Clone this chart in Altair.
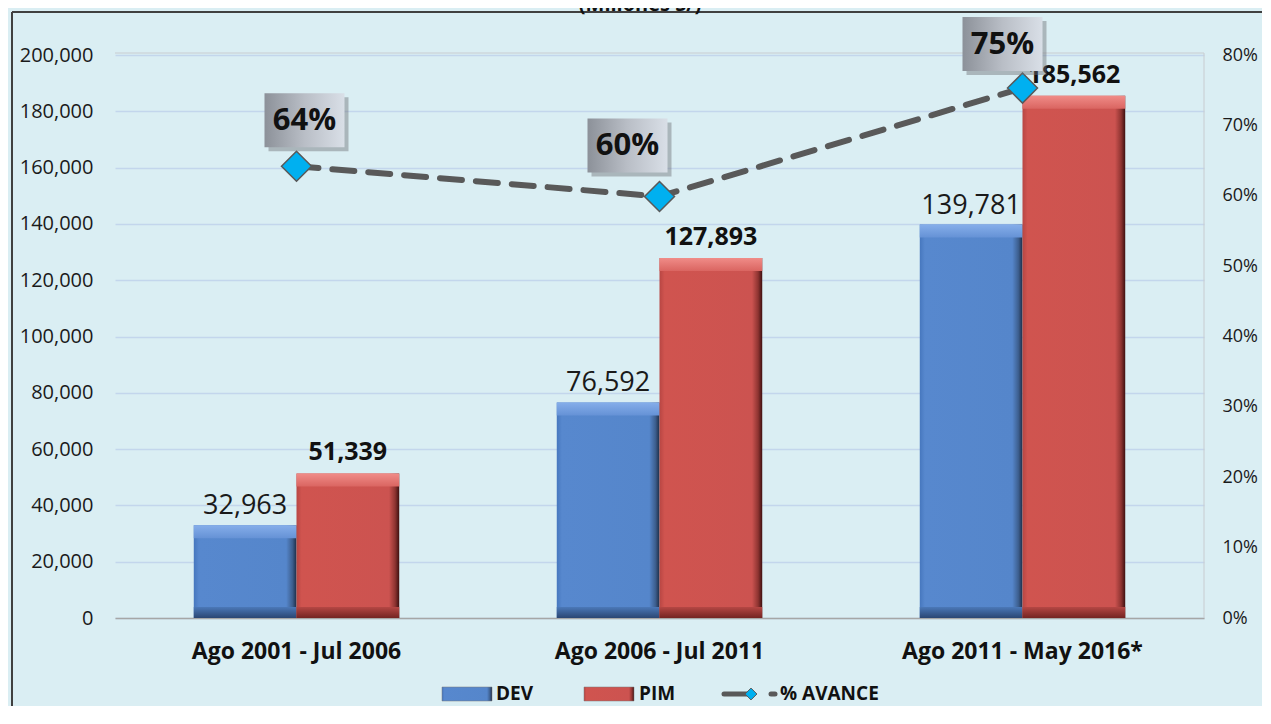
import altair as alt
import pandas as pd

# ---------------- data ----------------
periods = ["Ago 2001 - Jul 2006", "Ago 2006 - Jul 2011", "Ago 2011 - May 2016*"]
series = ["DEV", "PIM"]
dev_values = [32963, 76592, 139781]
pim_values = [51339, 127893, 185562]
avance_values = [0.642, 0.599, 0.753]
left_ticks = [0, 20000, 40000, 60000, 80000, 100000, 120000, 140000, 160000, 180000, 200000]
right_ticks = [0, 0.1, 0.2, 0.3, 0.4, 0.5, 0.6, 0.7, 0.8]
title_text = "(Millones S/)"
line_name = "% AVANCE"

bars_df = pd.DataFrame({
    "period": periods * 2,
    "series": ["DEV"] * 3 + ["PIM"] * 3,
    "value": dev_values + pim_values,
})
bars_df["zero"] = 0
line_df = pd.DataFrame({"period": periods, "pct": avance_values})
one = pd.DataFrame({"a": [0]})

# ---------------- style ----------------
BG = "#DAEEF3"
FONT = "Open Sans"
W, H = 1089, 563
PAD = {"left": 107, "top": 47, "right": 58, "bottom": 88}

def grad(stops, vertical=False):
    return alt.LinearGradient(
        gradient="linear",
        stops=[alt.GradientStop(offset=o, color=c) for o, c in stops],
        x1=0, x2=0 if vertical else 1, y1=0, y2=1 if vertical else 0,
    )

styles = {
    "DEV": dict(
        main=grad([(0, "#4677BE"), (0.05, "#5788CE"), (0.9, "#5586CB"), (0.96, "#3D5F8F"), (1, "#1E2E48")]),
        top=grad([(0, "#86AEEA"), (1, "#6592D6")], vertical=True),
        bottom=grad([(0, "#4B78B8"), (1, "#2B4773")], vertical=True),
    ),
    "PIM": dict(
        main=grad([(0, "#B84643"), (0.05, "#D0544F"), (0.9, "#CC5350"), (0.96, "#8E3431"), (1, "#3E1010")]),
        top=grad([(0, "#F08C88"), (1, "#DA6561")], vertical=True),
        bottom=grad([(0, "#B54744"), (1, "#742422")], vertical=True),
    ),
}

X = alt.X(
    "period:N", sort=periods, title=None,
    scale=alt.Scale(paddingInner=0.434, paddingOuter=0.217),
    axis=alt.Axis(labelFont=FONT, labelFontSize=23, labelFontWeight="bold", labelColor="#111111",
                  ticks=False, domainColor="#A6A6A6", domainWidth=1.5, labelPadding=22, labelAngle=0,
                  labelLimit=0),
)
XOFF = alt.XOffset("series:N", sort=series, scale=alt.Scale(paddingInner=0, paddingOuter=0))
Y_LEFT = alt.Y(
    "value:Q", title=None,
    scale=alt.Scale(domain=[0, 200000], nice=False, zero=True),
    axis=alt.Axis(values=left_ticks, format=",d", labelFont=FONT, labelFontSize=20, labelColor="#1a1a1a",
                  ticks=False, domain=False, labelPadding=22, gridColor="#C3D6EC", gridWidth=1.5),
)
Y_ZERO = alt.Y("zero:Q", title=None, scale=alt.Scale(domain=[0, 200000], nice=False))
Y_RIGHT = alt.Y(
    "pct:Q", title=None,
    scale=alt.Scale(domain=[0, 0.8], nice=False),
    axis=alt.Axis(orient="right", values=right_ticks, format=".0%", labelFont=FONT, labelFontSize=18,
                  labelColor="#1a1a1a", ticks=False, domain=False, grid=False, labelPadding=18),
)

# ---------------- bars ----------------
left_layers = []
for s in series:
    base = alt.Chart(bars_df).transform_filter(alt.datum.series == s)
    left_layers.append(base.mark_bar(color=styles[s]["main"]).encode(x=X, xOffset=XOFF, y=Y_LEFT))
    left_layers.append(base.mark_bar(color=styles[s]["top"], y2Offset=13).encode(
        x=X, xOffset=XOFF, y=Y_LEFT, y2="value:Q"))
    left_layers.append(base.mark_bar(color=styles[s]["bottom"], yOffset=-11).encode(
        x=X, xOffset=XOFF, y=Y_ZERO, y2="zero:Q"))

left_layers.append(
    alt.Chart(bars_df).transform_filter(alt.datum.series == "DEV")
    .mark_text(font=FONT, fontSize=27, color="#1a1a1a", baseline="middle", dy=-19)
    .encode(x=X, xOffset=XOFF, y=Y_LEFT, text=alt.Text("value:Q", format=",d"))
)
left_layers.append(
    alt.Chart(bars_df).transform_filter(alt.datum.series == "PIM")
    .mark_text(font=FONT, fontSize=25, fontWeight="bold", color="#111111", baseline="middle", dy=-21)
    .encode(x=X, xOffset=XOFF, y=Y_LEFT, text=alt.Text("value:Q", format=",d"))
)
left = alt.layer(*left_layers)

# ---------------- line ----------------
right_layers = [
    alt.Chart(line_df).mark_line(color="#595959", strokeWidth=6, strokeDash=[22, 14], strokeCap="round")
    .encode(x=X, y=Y_RIGHT),
    alt.Chart(line_df).mark_point(shape="diamond", size=900, filled=True, fill="#00B0F0",
                                  stroke="#595959", strokeWidth=1.5, opacity=1)
    .encode(x=X, y=Y_RIGHT),
]
box_shape = "M-1,-0.675L1,-0.675L1,0.675L-1,0.675Z"
box_grad = grad([(0, "#8C9199"), (0.5, "#B9BEC6"), (1, "#D9DFE7")])
label_offsets = [(8, -46), (-32, -51), (-20, -44)]
for p, (dx, dy) in zip(periods, label_offsets):
    base = alt.Chart(line_df).transform_filter(alt.datum.period == p)
    right_layers.append(base.mark_point(shape=box_shape, size=6400, filled=True, fill="#6E7278",
                                        opacity=0.45, xOffset=dx + 4, yOffset=dy + 4)
                        .encode(x=X, y=Y_RIGHT))
    right_layers.append(base.mark_point(shape=box_shape, size=6400, filled=True, fill=box_grad,
                                        opacity=1, xOffset=dx, yOffset=dy)
                        .encode(x=X, y=Y_RIGHT))
    right_layers.append(base.mark_text(font=FONT, fontSize=31, fontWeight="bold", color="#111111",
                                       baseline="middle", xOffset=dx, yOffset=dy + 1)
                        .encode(x=X, y=Y_RIGHT, text=alt.Text("pct:Q", format=".0%")))
right = alt.layer(*right_layers)

# ---------------- decorations ----------------
frame_top = alt.Chart(one).mark_rule(color="#404040", strokeWidth=2).encode(
    x=alt.value(-103), x2=alt.value(W + PAD["right"]), y=alt.value(-43))
frame_left = alt.Chart(one).mark_rule(color="#404040", strokeWidth=2).encode(
    x=alt.value(-103), y=alt.value(-43), y2=alt.value(H + PAD["bottom"]))
plot_top = alt.Chart(one).mark_rule(color="#C8CCD0", strokeWidth=1).encode(
    x=alt.value(0), x2=alt.value(W), y=alt.value(-2))
plot_right = alt.Chart(one).mark_rule(color="#C8CCD0", strokeWidth=1).encode(
    x=alt.value(W), y=alt.value(-2), y2=alt.value(H))
title = alt.Chart(one).mark_text(text=title_text, font=FONT, fontSize=20, fontWeight="bold",
                                 color="#111111", baseline="alphabetic").encode(
    x=alt.value(525), y=alt.value(-44))

# legend (manual)
LY = 639
leg = []
for s, x0, tx in [("DEV", 327, 381), ("PIM", 469, 524)]:
    leg.append(alt.Chart(one).mark_rect(color=styles[s]["main"], stroke="#7a7a7a", strokeWidth=0.5).encode(
        x=alt.value(x0), x2=alt.value(x0 + 50), y=alt.value(LY - 7), y2=alt.value(LY + 7)))
    leg.append(alt.Chart(one).mark_text(text=s, font=FONT, fontSize=19, fontWeight="bold", color="#111111",
                                        align="left", baseline="middle").encode(x=alt.value(tx), y=alt.value(LY)))
leg.append(alt.Chart(one).mark_rule(color="#595959", strokeWidth=5, strokeCap="round").encode(
    x=alt.value(609), x2=alt.value(632), y=alt.value(LY)))
leg.append(alt.Chart(one).mark_point(shape="diamond", size=140, filled=True, fill="#00B0F0",
                                     stroke="#595959", strokeWidth=1, opacity=1).encode(
    x=alt.value(636), y=alt.value(LY)))
leg.append(alt.Chart(one).mark_rule(color="#595959", strokeWidth=5, strokeCap="round").encode(
    x=alt.value(656), x2=alt.value(660), y=alt.value(LY)))
leg.append(alt.Chart(one).mark_text(text=line_name, font=FONT, fontSize=19, fontWeight="bold",
                                    color="#111111", align="left", baseline="middle").encode(
    x=alt.value(665), y=alt.value(LY)))

chart = (
    alt.layer(frame_top, frame_left, plot_top, plot_right, left, right, title, *leg)
    .resolve_scale(y="independent")
    .properties(
        width=W, height=H,
        autosize=alt.AutoSizeParams(type="none"),
        padding=PAD,
        background=BG,
    )
    .configure_view(stroke=None)
)

chart.save("out.html", embed_options={"renderer": "svg", "actions": False})
